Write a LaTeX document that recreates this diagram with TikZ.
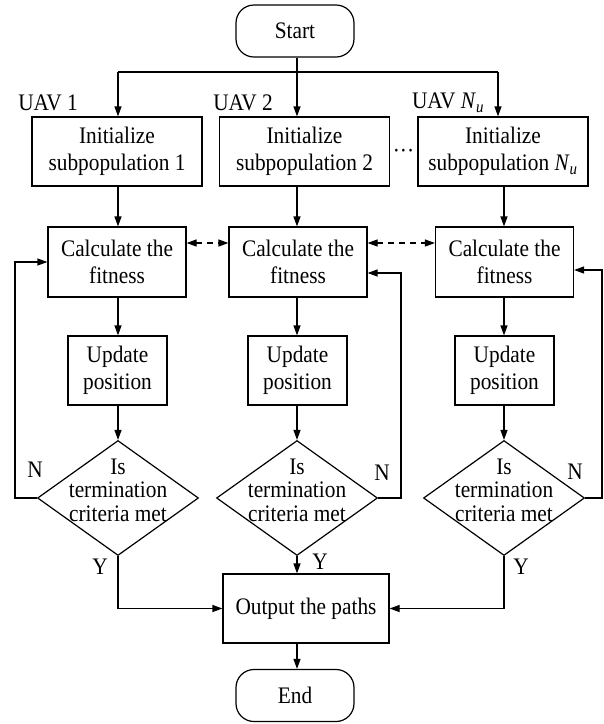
\documentclass[tikz,border=0pt]{standalone}
\usepackage{fontspec}
\setmainfont{Liberation Serif}[FakeStretch=0.9]
\usetikzlibrary{arrows.meta,shapes.geometric}
\begin{document}
\begin{tikzpicture}[x=1pt,y=-1pt,
  every node/.style={font=\fontsize{23.7}{26.5}\selectfont},
  box/.style={draw, line width=1.2pt, inner sep=0pt, align=center},
  term/.style={box, rounded corners=18pt, minimum width=118pt, minimum height=52pt},
  initbox/.style={box, minimum width=170pt, minimum height=69pt},
  calcbox/.style={box, minimum width=138pt, minimum height=70pt},
  updbox/.style={box, minimum width=99pt, minimum height=69pt},
  decision/.style={draw, line width=1.2pt, diamond, inner sep=0pt,
    minimum width=161pt, minimum height=115pt},
  dtext/.style={align=center, inner sep=0pt, font=\fontsize{23.7}{23.5}\selectfont},
  lbl/.style={inner sep=0pt},
  line/.style={line width=1.2pt},
  arr/.style={line, -{Triangle[length=10pt,width=7pt]}},
  link/.style={line, dash pattern=on 6pt off 5pt,
    {Triangle[length=10pt,width=7pt]}-{Triangle[length=10pt,width=7pt]}}]

\useasboundingbox (0,0) rectangle (604,724);

% column positions of the vertical flow lines
\coordinate (x1) at (118,0);
\coordinate (x2) at (297,0);
\coordinate (x3) at (504,0);
\coordinate (x3t) at (498,0);

% terminals
\node[term] (start) at (295,31) {Start};
\node[term] (end) at (295,695.5) {End};

% initialisation of the subpopulations
\node[initbox] (init1) at (117,151.5) {Initialize\\subpopulation 1};
\node[initbox] (init2) at (304.5,151.5) {Initialize\\subpopulation 2};
\node[initbox] (init3) at (503,151.5) {Initialize\\subpopulation \textit{N}\textsubscript{\textit{u}}};
\node[lbl] (uav1) at (48,103) {UAV 1};
\node[lbl] (uav2) at (243,103) {UAV 2};
\node[lbl] (uav3) at (448,103) {UAV \textit{N}\textsubscript{\textit{u}}};
\node[lbl, anchor=base] (dots) at (403.5,158) {···};

% fitness evaluation
\node[calcbox] (calc1) at (117,262) {Calculate the\\fitness};
\node[calcbox] (calc2) at (298,262) {Calculate the\\fitness};
\node[calcbox] (calc3) at (504.5,262) {Calculate the\\fitness};

% position update
\node[updbox] (upd1) at (117.5,370.5) {Update\\position};
\node[updbox] (upd2) at (297.5,370.5) {Update\\position};
\node[updbox] (upd3) at (504.5,370.5) {Update\\position};

% termination tests
\node[decision] (dec1) at (118,498) {};
\node[decision] (dec2) at (297,498) {};
\node[decision] (dec3) at (504,498) {};
\foreach \d in {dec1,dec2,dec3}
  \node[dtext, yshift=8pt] (\d t) at (\d) {Is\\termination\\criteria met};

% merged output
\node[box, minimum width=166pt, minimum height=69pt] (out) at (306,608.5) {Output the paths};

% branch labels
\node[lbl] (n1) at (35,470) {N};
\node[lbl] (n2) at (382,473) {N};
\node[lbl] (n3) at (575,472) {N};
\node[lbl] (y1) at (100,567) {Y};
\node[lbl] (y2) at (320,562) {Y};
\node[lbl] (y3) at (521,567) {Y};

% fan-out from Start
\coordinate (b1) at (118,72);
\coordinate (b3) at (498,72);
\draw[line] (b1) -- (b3);
\draw[arr] (start.south -| x2) -- (init2.north -| x2);
\draw[arr] (b1) -- (init1.north -| b1);
\draw[arr] (b3) -- (init3.north -| b3);

% main flow in each column
\draw[arr] (init1.south -| x1) -- (calc1.north -| x1);
\draw[arr] (init2.south -| x2) -- (calc2.north -| x2);
\draw[arr] (init3.south -| x3) -- (calc3.north -| x3);
\draw[arr] (calc1.south -| x1) -- (upd1.north -| x1);
\draw[arr] (calc2.south -| x2) -- (upd2.north -| x2);
\draw[arr] (calc3.south -| x3) -- (upd3.north -| x3);
\draw[arr] (upd1.south -| x1) -- (dec1.north);
\draw[arr] (upd2.south -| x2) -- (dec2.north);
\draw[arr] (upd3.south -| x3) -- (dec3.north);

% information exchange between subpopulations
\coordinate (dl) at (0,243);
\draw[link] (calc1.east |- dl) -- (calc2.west |- dl);
\draw[link] (calc2.east |- dl) -- (calc3.west |- dl);

% loops back to the fitness evaluation
\coordinate (f1) at (15,262);
\coordinate (f2) at (401,273);
\coordinate (f3) at (602,270);
\draw[arr] (dec1.west) -- (dec1.west -| f1) -- (f1) -- (calc1.west);
\draw[arr] (dec2.east) -- (dec2.east -| f2) -- (f2) -- (f2 -| calc2.east);
\draw[arr] (dec3.east) -- (dec3.east -| f3) -- (f3) -- (f3 -| calc3.east);

% exits to the output
\draw[arr] (dec1.south) |- (out.west);
\draw[arr] (dec3.south) |- (out.east);
\draw[arr] (dec2.south) -- (out.north -| dec2.south);
\draw[arr] (out.south -| x2) -- (end.north -| x2);
\end{tikzpicture}
\end{document}
